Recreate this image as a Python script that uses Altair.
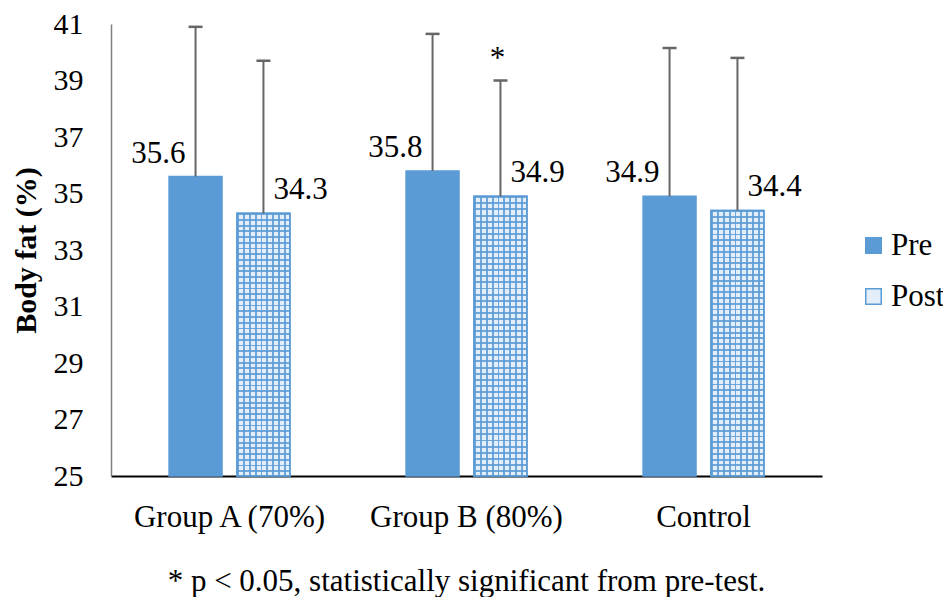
import altair as alt
import pandas as pd

groups = ["Group A (70%)", "Group B (80%)", "Control"]
series = ["Pre", "Post"]
pre_mean = [35.6, 35.8, 34.9]
post_mean = [34.3, 34.9, 34.4]
pre_sd = [5.3, 4.85, 5.25]
post_sd = [5.4, 4.1, 5.4]
post_sig = ["", "*", ""]
tick_values = [25, 27, 29, 31, 33, 35, 37, 39, 41]
y_title = "Body fat (%)"
footnote = "* p < 0.05, statistically significant from pre-test."

rows = []
for i, g in enumerate(groups):
    rows.append(dict(group=g, series="Pre", value=pre_mean[i], upper=round(pre_mean[i] + pre_sd[i], 2),
                     label=f"{pre_mean[i]:.1f}", sig=""))
    rows.append(dict(group=g, series="Post", value=post_mean[i], upper=round(post_mean[i] + post_sd[i], 2),
                     label=f"{post_mean[i]:.1f}", sig=post_sig[i]))
df = pd.DataFrame(rows)

FONT = "Liberation Serif"
BLUE = "#5b9bd5"
POST_BG = "#e3eefa"
ERR = "#666666"


def stripes(n, frac, horizontal):
    stops = []
    on = "rgba(91,155,213,0.85)"
    off = "rgba(91,155,213,0)"
    for i in range(n):
        a = i / n
        b = (i + frac) / n
        c = (i + 1) / n
        stops += [alt.GradientStop(color=on, offset=a), alt.GradientStop(color=on, offset=b),
                  alt.GradientStop(color=off, offset=b), alt.GradientStop(color=off, offset=c)]
    if horizontal:
        return alt.LinearGradient(gradient="linear", stops=stops, x1=0, x2=0, y1=0, y2=1)
    return alt.LinearGradient(gradient="linear", stops=stops, x1=0, x2=1, y1=0, y2=0)


x_enc = alt.X("group:N", sort=groups,
              scale=alt.Scale(paddingInner=0.49, paddingOuter=0.245),
              axis=alt.Axis(title=None, labelAngle=0, labelFontSize=31, labelFont=FONT,
                            labelColor="black", ticks=False, grid=False, domain=True, domainColor="black",
                            domainWidth=2, labelPadding=26, labelLimit=0))
xo_enc = alt.XOffset("series:N", sort=series, scale=alt.Scale(paddingInner=0.22, paddingOuter=0))
y_scale = alt.Scale(domain=[25, 41], nice=False, zero=False)
y_enc = alt.Y("value:Q", scale=y_scale,
              axis=alt.Axis(values=tick_values, title=y_title, titleFont=FONT, titleFontSize=30,
                            titleFontWeight="bold", titleColor="black", titlePadding=12,
                            labelFont=FONT, labelFontSize=30, labelColor="black", ticks=False,
                            grid=False, domain=True, domainColor="#808080", domainWidth=1.5, labelPadding=28))

legend = alt.Legend(title=None, orient="none", legendX=747, legendY=206, symbolType="square",
                    symbolSize=240, labelFontSize=31, labelFont=FONT, labelColor="black",
                    rowPadding=19, labelOffset=2, padding=0, symbolStrokeWidth=1.5, labelLimit=0)

base = alt.Chart(df)
xs = alt.X("group:N", sort=groups)
xos = alt.XOffset("series:N", sort=series)

bars = base.mark_bar(strokeWidth=1.5).encode(
    x=x_enc, xOffset=xo_enc, y=y_enc, y2=alt.datum(25),
    fill=alt.Fill("series:N", sort=series, scale=alt.Scale(domain=series, range=[BLUE, POST_BG]), legend=legend),
    stroke=alt.Stroke("series:N", sort=series, scale=alt.Scale(domain=series, range=[BLUE, BLUE]), legend=legend),
)

post_only = base.transform_filter(alt.datum.series == "Post")
vstripes = post_only.mark_bar(fill=stripes(9, 0.32, False), strokeWidth=0).encode(
    x=xs, xOffset=xos, y=alt.Y("value:Q"), y2=alt.datum(25))
hstripes = post_only.mark_bar(fill=stripes(46, 0.32, True), strokeWidth=0).encode(
    x=xs, xOffset=xos, y=alt.Y("value:Q"), y2=alt.datum(25))
outline = post_only.mark_bar(fillOpacity=0, stroke=BLUE, strokeWidth=1.5).encode(
    x=xs, xOffset=xos, y=alt.Y("value:Q"), y2=alt.datum(25))

rules = base.mark_rule(color=ERR, strokeWidth=2).encode(
    x=xs, xOffset=xos, y=alt.Y("value:Q"), y2="upper:Q")
caps = base.mark_tick(orient="horizontal", size=14, thickness=2.5, color=ERR, opacity=1).encode(
    x=xs, xOffset=xos, y=alt.Y("upper:Q"))

pre_labels = base.transform_filter(alt.datum.series == "Pre").mark_text(
    align="right", baseline="alphabetic", dx=-10, dy=-14, fontSize=31, font=FONT, color="black").encode(
    x=xs, xOffset=xos, y=alt.Y("value:Q"), text="label:N")
post_labels = post_only.mark_text(
    align="left", baseline="alphabetic", dx=10, dy=-14, fontSize=31, font=FONT, color="black").encode(
    x=xs, xOffset=xos, y=alt.Y("value:Q"), text="label:N")
sig = post_only.mark_text(
    align="center", baseline="alphabetic", dx=-3, dy=-13, fontSize=31, font=FONT, color="black").encode(
    x=xs, xOffset=xos, y=alt.Y("upper:Q"), text="sig:N")

chart = alt.layer(bars, vstripes, hstripes, outline, rules, caps, pre_labels, post_labels, sig).properties(
    width=711, height=452,
    title=alt.TitleParams(footnote, orient="bottom", anchor="middle", frame="group", fontSize=31,
                          font=FONT, fontWeight="normal", color="black", offset=35),
    autosize=alt.AutoSizeParams(type="none"),
    padding={"left": 103, "top": 16, "right": 121, "bottom": 121},
    background="white",
    view=alt.ViewBackground(strokeWidth=0, stroke="transparent"),
).configure_view(strokeWidth=0, stroke="transparent").configure_axis(grid=False)

chart.save("out.html", embed_options={"renderer": "svg", "actions": False})
